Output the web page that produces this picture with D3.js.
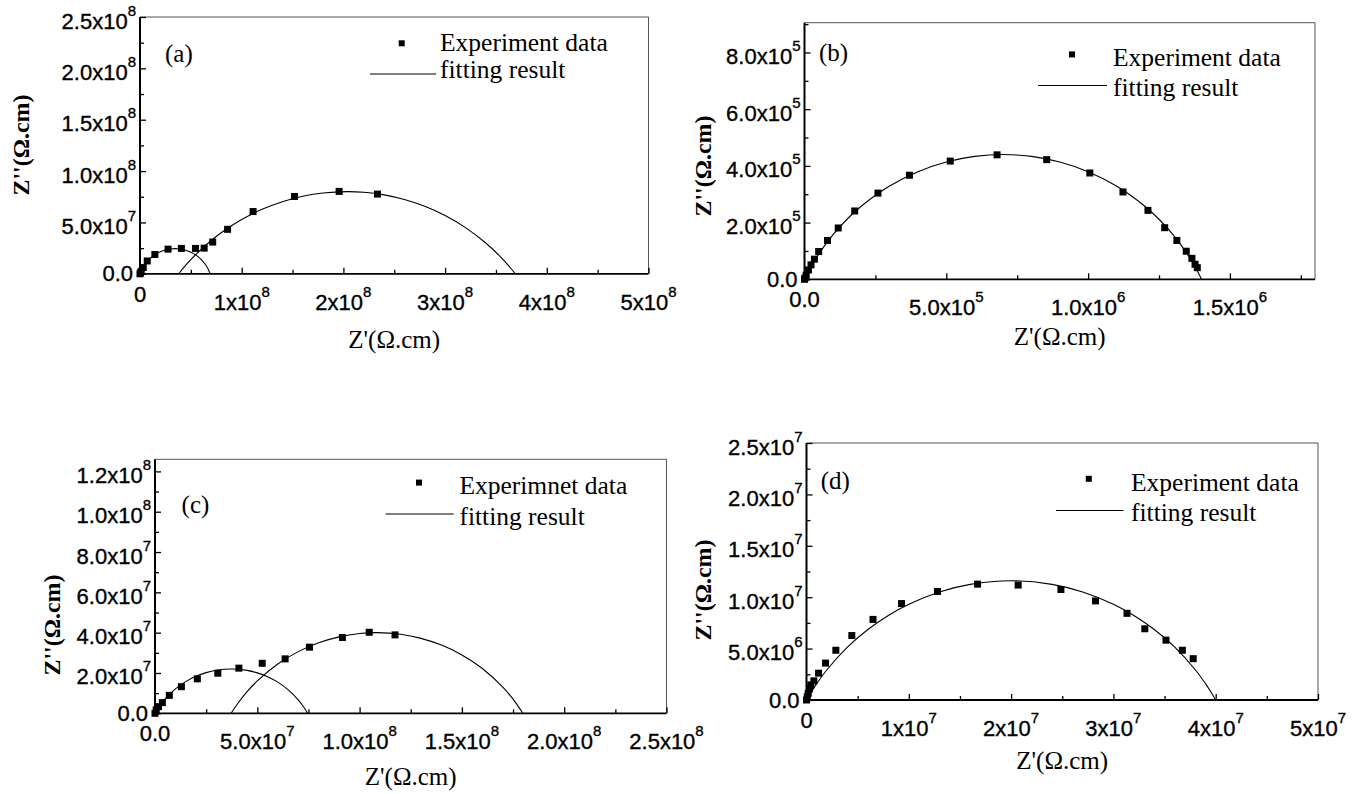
<!DOCTYPE html>
<html>
<head>
<meta charset="utf-8">
<script src="https://cdn.jsdelivr.net/npm/d3@7"></script>
<style>
  body { margin: 0; background: #fff; }
  svg { display: block; }
</style>
</head>
<body>
<svg id="chart" width="1359" height="794"></svg>
<script>
// ----------------------------------------
// Data
// ----------------------------------------

// (a)
const expA = [[0,0],[5e5,1e6],[1.2e6,2.4e6],[3.2e6,6.1e6],[7.1e6,1.25e7],[1.46e7,1.88e7],[2.76e7,2.4e7],
  [4.07e7,2.47e7],[5.46e7,2.47e7],[6.31e7,2.5e7],[7.15e7,3.09e7],[8.61e7,4.33e7],[1.112e8,6.06e7],
  [1.519e8,7.53e7],[1.958e8,8.02e7],[2.335e8,7.76e7]];
const fitA1 = [[0,0],[2e6,4.62e6],[5e6,9.5e6],[1e7,1.506e7],[1.5e7,1.886e7],[2e7,2.15e7],[2.5e7,2.324e7],
  [3e7,2.422e7],[3.45e7,2.45e7],[4e7,2.408e7],[4.5e7,2.296e7],[5e7,2.105e7],[5.5e7,1.82e7],[6e7,1.412e7],
  [6.5e7,8.05e6],[6.7e7,4.62e6],[6.9e7,0]];
const fitA2 = [[3.8e7,0],[4.0e7,2.49e6],[4.5e7,8.47e6],[5.5e7,1.898e7],[7e7,3.246e7],[8.5e7,4.362e7],[1e8,5.29e7],
  [1.2e8,6.28e7],[1.4e8,7.023e7],[1.6e8,7.547e7],[1.8e8,7.869e7],[2.035e8,8.0e7],[2.2e8,7.935e7],
  [2.4e8,7.682e7],[2.6e8,7.23e7],[2.8e8,6.566e7],[3.0e8,5.667e7],[3.2e8,4.496e7],[3.4e8,2.996e7],
  [3.55e8,1.595e7],[3.65e8,4.9e6],[3.69e8,0]];
const xTicksA = [0, 1e8, 2e8, 3e8, 4e8, 5e8];
const xLabelsA = ["0", "1x10^8", "2x10^8", "3x10^8", "4x10^8", "5x10^8"];
const yTicksA = [0, 5e7, 1e8, 1.5e8, 2e8, 2.5e8];
const yLabelsA = ["0.0", "5.0x10^7", "1.0x10^8", "1.5x10^8", "2.0x10^8", "2.5x10^8"];

// (b)
const expB = [[0,0],[2e3,5e3],[6e3,1.5e4],[1.4e4,3.3e4],[2.3e4,5.1e4],[3.5e4,7.1e4],[5.0e4,9.8e4],
  [8.1e4,1.37e5],[1.19e5,1.81e5],[1.77e5,2.41e5],[2.59e5,3.04e5],[3.70e5,3.67e5],[5.14e5,4.17e5],
  [6.79e5,4.39e5],[8.54e5,4.22e5],[1.006e6,3.75e5],[1.123e6,3.08e5],[1.211e6,2.43e5],[1.27e6,1.82e5],
  [1.313e6,1.37e5],[1.346e6,9.9e4],[1.366e6,7.4e4],[1.377e6,5.3e4],[1.385e6,4.1e4]];
const fitB = [[0,0],[2e4,3.89e4],[5e4,8.87e4],[1e5,1.567e5],[1.5e5,2.118e5],[2e5,2.578e5],[3e5,3.291e5],
  [4e5,3.797e5],[5e5,4.138e5],[6e5,4.335e5],[7e5,4.40e5],[8e5,4.335e5],[9e5,4.138e5],[1e6,3.797e5],
  [1.1e6,3.291e5],[1.2e6,2.578e5],[1.25e6,2.118e5],[1.3e6,1.567e5],[1.35e6,8.87e4],[1.38e6,3.89e4],[1.4e6,0]];
const xTicksB = [0, 5e5, 1e6, 1.5e6];
const xLabelsB = ["0.0", "5.0x10^5", "1.0x10^6", "1.5x10^6"];
const yTicksB = [0, 2e5, 4e5, 6e5, 8e5];
const yLabelsB = ["0.0", "2.0x10^5", "4.0x10^5", "6.0x10^5", "8.0x10^5"];

// (c)
const expC = [[0,0],[6e5,1.7e6],[1.7e6,3.3e6],[3.6e6,5.3e6],[7.0e6,8.9e6],[1.29e7,1.32e7],[2.07e7,1.71e7],
  [3.07e7,1.99e7],[4.1e7,2.24e7],[5.24e7,2.48e7],[6.36e7,2.7e7],[7.55e7,3.28e7],[9.16e7,3.76e7],
  [1.047e8,4.02e7],[1.173e8,3.89e7]];
const fitC1 = [[0,0],[2e6,3.25e6],[5e6,7.18e6],[1e7,1.21e7],[1.5e7,1.57e7],[2e7,1.833e7],[2.5e7,2.019e7],
  [3e7,2.137e7],[3.73e7,2.2e7],[4.5e7,2.13e7],[5e7,2.006e7],[5.5e7,1.815e7],[6e7,1.545e7],[6.5e7,1.177e7],
  [7e7,6.7e6],[7.3e7,2.64e6],[7.46e7,0]];
const fitC2 = [[3.72e7,0],[4e7,4.25e6],[4.5e7,1.072e7],[5e7,1.608e7],[6e7,2.447e7],[7e7,3.059e7],[8e7,3.499e7],
  [9e7,3.792e7],[1e8,3.957e7],[1.085e8,4.0e7],[1.2e8,3.92e7],[1.3e8,3.718e7],[1.4e8,3.383e7],
  [1.5e8,2.896e7],[1.6e8,2.223e7],[1.7e8,1.298e7],[1.75e8,7.0e6],[1.798e8,0]];
const xTicksC = [0, 5e7, 1e8, 1.5e8, 2e8, 2.5e8];
const xLabelsC = ["0.0", "5.0x10^7", "1.0x10^8", "1.5x10^8", "2.0x10^8", "2.5x10^8"];
const yTicksC = [0, 2e7, 4e7, 6e7, 8e7, 1e8, 1.2e8];
const yLabelsC = ["0.0", "2.0x10^7", "4.0x10^7", "6.0x10^7", "8.0x10^7", "1.0x10^8", "1.2x10^8"];

// (d)
const expD = [[0,0],[8e4,3.3e5],[1.7e5,6.5e5],[3e5,1.08e6],[4.2e5,1.47e6],[7.2e5,1.86e6],[1.18e6,2.61e6],
  [1.86e6,3.59e6],[2.87e6,4.84e6],[4.43e6,6.27e6],[6.5e6,7.84e6],[9.29e6,9.38e6],[1.28e7,1.056e7],
  [1.672e7,1.127e7],[2.069e7,1.118e7],[2.487e7,1.075e7],[2.825e7,9.64e6],[3.133e7,8.43e6],
  [3.307e7,6.93e6],[3.514e7,5.82e6],[3.674e7,4.84e6],[3.78e7,4.02e6]];
const fitD = [[0,0],[5e5,8.3e5],[1e6,1.592e6],[2e6,2.942e6],[4e6,5.138e6],[6e6,6.859e6],[8e6,8.228e6],
  [1e7,9.317e6],[1.3e7,1.0511e7],[1.6e7,1.125e7],[2e7,1.16e7],[2.4e7,1.125e7],[2.7e7,1.0511e7],
  [3e7,9.317e6],[3.2e7,8.228e6],[3.4e7,6.859e6],[3.6e7,5.138e6],[3.8e7,2.942e6],[3.9e7,1.592e6],
  [3.95e7,8.3e5],[4e7,0]];
const xTicksD = [0, 1e7, 2e7, 3e7, 4e7, 5e7];
const xLabelsD = ["0", "1x10^7", "2x10^7", "3x10^7", "4x10^7", "5x10^7"];
const yTicksD = [0, 5e6, 1e7, 1.5e7, 2e7, 2.5e7];
const yLabelsD = ["0.0", "5.0x10^6", "1.0x10^7", "1.5x10^7", "2.0x10^7", "2.5x10^7"];

const legendExp = ["Experiment data", "Experiment data", "Experimnet data", "Experiment data"];
const legendFit = "fitting result";
const panelTags = ["(a)", "(b)", "(c)", "(d)"];
const xTitle = "Z'(\u03A9.cm)";
const yTitle = "Z''(\u03A9.cm)";

// ----------------------------------------
// Layout of each panel
// ----------------------------------------

const panels = [
  { tag: panelTags[0], exp: expA, fits: [fitA1, fitA2], xMax: 5e8, yMax: 2.5e8,
    xTicks: xTicksA, xLabels: xLabelsA, yTicks: yTicksA, yLabels: yLabelsA, xMinor: 5e7, yMinor: 2.5e7,
    left: 140, right: 648.5, top: 17, bottom: 273.8,
    xTitleDy: 74, yTitleX: 29, yTitleY: 145,
    tagX: 165, tagY: 62, legend: legendExp[0],
    markX: 401.7, markY: 43.3, lineX: [370, 436], lineY: 74, textX: 440, textY: [50.7, 78.3] },
  { tag: panelTags[1], exp: expB, fits: [fitB], xMax: 1.8e6, yMax: 9.05e5,
    xTicks: xTicksB, xLabels: xLabelsB, yTicks: yTicksB, yLabels: yLabelsB, xMinor: 2.5e5, yMinor: 1e5,
    left: 804.5, right: 1315, top: 22.7, bottom: 279.3,
    xTitleDy: 66, yTitleX: 711, yTitleY: 166,
    tagX: 819, tagY: 61, legend: legendExp[1],
    markX: 1072, markY: 54.4, lineX: [1038, 1107], lineY: 85.5, textX: 1113, textY: [66.2, 96.2] },
  { tag: panelTags[2], exp: expC, fits: [fitC1, fitC2], xMax: 2.5e8, yMax: 1.26e8,
    xTicks: xTicksC, xLabels: xLabelsC, yTicks: yTicksC, yLabels: yLabelsC, xMinor: 2.5e7, yMinor: 1e7,
    left: 155, right: 666.5, top: 459.3, bottom: 713.3,
    xTitleDy: 72, yTitleX: 60, yTitleY: 625,
    tagX: 181.6, tagY: 513.3, legend: legendExp[2],
    markX: 419, markY: 482.6, lineX: [385.6, 453.7], lineY: 514, textX: 459.4, textY: [494.3, 525] },
  { tag: panelTags[3], exp: expD, fits: [fitD], xMax: 5e7, yMax: 2.5e7,
    xTicks: xTicksD, xLabels: xLabelsD, yTicks: yTicksD, yLabels: yLabelsD, xMinor: 5e6, yMinor: 2.5e6,
    left: 806.5, right: 1318, top: 443, bottom: 700,
    xTitleDy: 69, yTitleX: 711, yTitleY: 590,
    tagX: 820.8, tagY: 488.9, legend: legendExp[3],
    markX: 1088.8, markY: 478.8, lineX: [1056, 1123.5], lineY: 510.5, textX: 1131, textY: [490.5, 521.2] }
];

const SANS = "'Liberation Sans', Arial, sans-serif";
const SERIF = "'Liberation Serif', 'Times New Roman', serif";

const svg = d3.select('#chart');

// label like "5.0x10^7" -> mantissa + superscript exponent
function tickText(sel, str) {
  const parts = str.split('^');
  sel.append('tspan').text(parts[0]);
  if (parts[1]) {
    sel.append('tspan').attr('font-size', 15).attr('dy', -13).text(parts[1]);
  }
}

panels.forEach(p => drawPanel(p));

function drawPanel(p) {
  const x = d3.scaleLinear().domain([0, p.xMax]).range([p.left, p.right]);
  const y = d3.scaleLinear().domain([0, p.yMax]).range([p.bottom, p.top]);
  const g = svg.append('g');

  // frame (top / right are thin)
  g.append('line').attr('x1', p.left).attr('x2', p.right).attr('y1', p.top).attr('y2', p.top)
    .attr('stroke', '#555').attr('stroke-width', 1);
  g.append('line').attr('x1', p.right).attr('x2', p.right).attr('y1', p.top).attr('y2', p.bottom)
    .attr('stroke', '#555').attr('stroke-width', 1);

  // ticks, pointing inside
  const xMinorTicks = d3.range(0, p.xMax + 1, p.xMinor).filter(v => !p.xTicks.includes(v));
  const yMinorTicks = d3.range(0, p.yMax * 1.0001, p.yMinor).filter(v => !p.yTicks.includes(v));

  const axes = [
    [d3.axisBottom(x).tickValues(p.xTicks).tickSizeInner(-6), `translate(0,${p.bottom})`],
    [d3.axisBottom(x).tickValues(xMinorTicks).tickSizeInner(-4), `translate(0,${p.bottom})`],
    [d3.axisLeft(y).tickValues(p.yTicks).tickSizeInner(-6), `translate(${p.left},0)`],
    [d3.axisLeft(y).tickValues(yMinorTicks).tickSizeInner(-4), `translate(${p.left},0)`]
  ];
  axes.forEach(([ax, tr]) => {
    const a = g.append('g').attr('transform', tr)
      .call(ax.tickSizeOuter(0).tickFormat(''));
    a.select('.domain').remove();
    a.selectAll('line').attr('stroke', '#000').attr('stroke-width', 1.3);
  });

  // axis lines
  g.append('line').attr('x1', p.left).attr('x2', p.right).attr('y1', p.bottom).attr('y2', p.bottom)
    .attr('stroke', '#000').attr('stroke-width', 1.8);
  g.append('line').attr('x1', p.left).attr('x2', p.left).attr('y1', p.top).attr('y2', p.bottom)
    .attr('stroke', '#000').attr('stroke-width', 2);

  // tick labels
  p.xTicks.forEach((v, i) => {
    const lab = p.xLabels[i];
    const sup = lab.includes('^');
    const t = g.append('text')
      .attr('x', x(v))
      .attr('y', p.bottom + (sup ? 36 : 28))
      .attr('text-anchor', 'middle')
      .attr('font-family', SANS)
      .attr('font-size', 22)
      .attr('stroke', '#000').attr('stroke-width', 0.35);
    tickText(t, lab);
  });
  p.yTicks.forEach((v, i) => {
    const lab = p.yLabels[i];
    const sup = lab.includes('^');
    const t = g.append('text')
      .attr('x', p.left - (sup ? 4 : 7))
      .attr('y', y(v) + (sup ? 11.5 : 7.5))
      .attr('text-anchor', 'end')
      .attr('font-family', SANS)
      .attr('font-size', 22)
      .attr('stroke', '#000').attr('stroke-width', 0.35);
    tickText(t, lab);
  });

  // axis titles
  g.append('text')
    .attr('x', (p.left + p.right) / 2)
    .attr('y', p.bottom + p.xTitleDy)
    .attr('text-anchor', 'middle')
    .attr('font-family', SERIF)
    .attr('font-size', 25)
    .text(xTitle);
  g.append('text')
    .attr('transform', `translate(${p.yTitleX},${p.yTitleY}) rotate(-90)`)
    .attr('text-anchor', 'middle')
    .attr('font-family', SERIF)
    .attr('font-weight', 'bold')
    .attr('font-size', 24)
    .text(yTitle);

  // fitting curves
  const line = d3.line()
    .x(d => x(d[0]))
    .y(d => y(d[1]))
    .curve(d3.curveCatmullRom.alpha(0.5));
  p.fits.forEach(f => {
    g.append('path')
      .attr('d', line(f))
      .attr('fill', 'none')
      .attr('stroke', '#000')
      .attr('stroke-width', 1.1);
  });

  // experiment points
  const s = 7;
  g.selectAll('rect.pt')
    .data(p.exp)
    .enter().append('rect')
      .attr('class', 'pt')
      .attr('x', d => x(d[0]) - s / 2)
      .attr('y', d => y(d[1]) - s / 2)
      .attr('width', s)
      .attr('height', s)
      .attr('fill', '#000');

  // panel tag
  g.append('text')
    .attr('x', p.tagX).attr('y', p.tagY)
    .attr('font-family', SERIF).attr('font-size', 25)
    .text(p.tag);

  // legend
  g.append('rect')
    .attr('x', p.markX - 3).attr('y', p.markY - 3)
    .attr('width', 6).attr('height', 6)
    .attr('fill', '#000');
  g.append('line')
    .attr('x1', p.lineX[0]).attr('x2', p.lineX[1])
    .attr('y1', p.lineY).attr('y2', p.lineY)
    .attr('stroke', '#000').attr('stroke-width', 1);
  g.append('text')
    .attr('x', p.textX).attr('y', p.textY[0])
    .attr('font-family', SERIF).attr('font-size', 25.5)
    .text(p.legend);
  g.append('text')
    .attr('x', p.textX).attr('y', p.textY[1])
    .attr('font-family', SERIF).attr('font-size', 25.5)
    .text(legendFit);
}
</script>
</body>
</html>
